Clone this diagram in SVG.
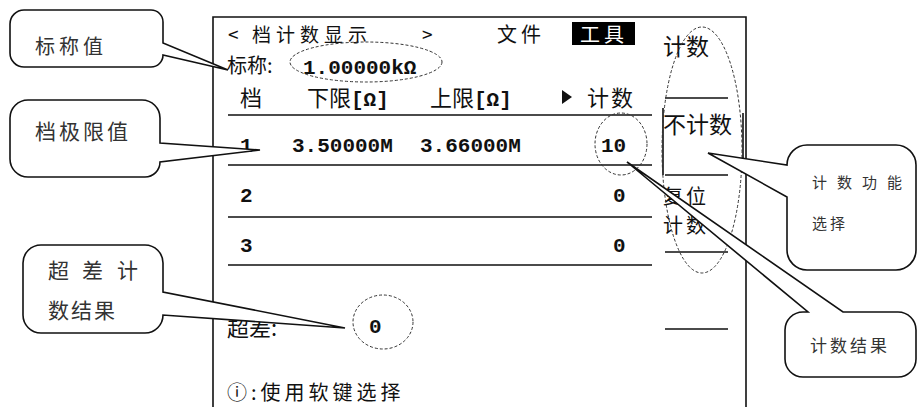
<svg xmlns="http://www.w3.org/2000/svg" width="920" height="407" viewBox="0 0 920 407">
<style>
.cjk{font-family:"Noto Sans CJK SC","Noto Sans",sans-serif;fill:#111}
.mono{font-family:"Liberation Mono","DejaVu Sans Mono",monospace;font-weight:bold;fill:#111}
.ln{stroke:#111;stroke-width:1.6;fill:none}
.dash{stroke:#333;stroke-width:1;stroke-dasharray:3 2;fill:none}
.co{fill:#fff;stroke:#111;stroke-width:1.6;stroke-linejoin:miter}
.ct{font-family:"Noto Sans CJK SC","Noto Sans",sans-serif;fill:#333}
</style>
<rect width="920" height="407" fill="#fff"/>
<g id="lcd">
  <path class="ln" d="M213,407 V17 H746 V407" stroke-width="2"/>
  <text class="cjk" x="228" y="42" font-size="19">&lt;</text>
  <text class="cjk" x="252" y="42" font-size="19" letter-spacing="5">档计数显示</text>
  <text class="cjk" x="422" y="42" font-size="19">&gt;</text>
  <text class="cjk" x="497" y="42" font-size="20" letter-spacing="4">文件</text>
  <rect x="572" y="22" width="63" height="23" fill="#000"/>
  <text class="cjk" x="580" y="42" font-size="20" letter-spacing="4" style="fill:#fff">工具</text>
  <text class="cjk" x="227" y="73" font-size="20">标称:</text>
  <text class="mono" x="303" y="74" font-size="21">1.00000kΩ</text>
  <text class="cjk" x="240" y="106" font-size="22">档</text>
  <text class="cjk" x="307" y="106" font-size="22">下限<tspan class="mono" font-size="21">[Ω]</tspan></text>
  <text class="cjk" x="430" y="106" font-size="22">上限<tspan class="mono" font-size="21">[Ω]</tspan></text>
  <polygon points="562,90 572,97 562,104" fill="#111"/>
  <text class="cjk" x="587" y="106" font-size="22" letter-spacing="2">计数</text>
  <path class="ln" d="M228,115 H652 M228,165 H652 M228,217 H652 M228,265 H652"/>
  <text class="mono" x="240" y="152" font-size="21">1</text>
  <text class="mono" x="292" y="152" font-size="21">3.50000M</text>
  <text class="mono" x="420" y="152" font-size="21">3.66000M</text>
  <text class="mono" x="601" y="152" font-size="21">10</text>
  <text class="mono" x="240" y="202" font-size="21">2</text>
  <text class="mono" x="613" y="202" font-size="21">0</text>
  <text class="mono" x="240" y="252" font-size="21">3</text>
  <text class="mono" x="613" y="252" font-size="21">0</text>
  <text class="cjk" x="227" y="336" font-size="22">超差:</text>
  <text class="mono" x="369" y="333" font-size="21">0</text>
  <text class="cjk" x="227" y="400" font-size="20" letter-spacing="4">ⓘ:使用软键选择</text>
  <text class="cjk" x="663" y="55" font-size="23">计数</text>
  <path class="ln" d="M665,98 H728 M663,108 V175 M743,113 V173 M665,175 H728 M665,252 H728 M665,329 H728"/>
  <text class="cjk" x="663" y="133" font-size="23">不计数</text>
  <text class="cjk" x="663" y="204" font-size="20" letter-spacing="3">复位</text>
  <text class="cjk" x="663" y="233" font-size="20" letter-spacing="3">计数</text>
  <ellipse class="dash" cx="366" cy="62" rx="76" ry="20"/>
  <ellipse class="dash" cx="621" cy="144" rx="26" ry="31"/>
  <ellipse class="dash" cx="383" cy="322" rx="30" ry="27"/>
  <ellipse class="dash" cx="702" cy="150" rx="40" ry="123"/>
</g>
<g id="callout-nominal">
  <path class="co" d="M24,10 H151 A12,12 0 0 1 163,22 V43 L228,70 L163,55 A12,12 0 0 1 151,67 H24 A14,14 0 0 1 10,53 V24 A14,14 0 0 1 24,10 Z"/>
  <text class="ct" x="35" y="54" font-size="20" letter-spacing="4">标称值</text>
</g>
<g id="callout-limits">
  <path class="co" d="M28,100 H142 A18,18 0 0 1 160,118 V143 L260,150 L160,162 A15,15 0 0 1 145,177 H28 A18,18 0 0 1 10,159 V118 A18,18 0 0 1 28,100 Z"/>
  <text class="ct" x="35" y="139" font-size="21" letter-spacing="3">档极限值</text>
</g>
<g id="callout-over">
  <path class="co" d="M41,245 H145 A18,18 0 0 1 163,263 V292 L345,328 L163,315 A18,18 0 0 1 145,333 H41 A18,18 0 0 1 23,315 V263 A18,18 0 0 1 41,245 Z"/>
  <text class="ct" font-size="21" y="278"><tspan x="48">超</tspan><tspan x="82">差</tspan><tspan x="117">计</tspan></text>
  <text class="ct" x="48" y="318" font-size="21" letter-spacing="2">数结果</text>
</g>
<g id="callout-func">
  <path class="co" d="M807,145 H896 A20,20 0 0 1 916,165 V250 A20,20 0 0 1 896,270 H807 A20,20 0 0 1 787,250 V197 L708,153 L787,165 A20,20 0 0 1 807,145 Z"/>
  <text class="ct" font-size="15" y="188"><tspan x="812">计</tspan><tspan x="837">数</tspan><tspan x="862">功</tspan><tspan x="887">能</tspan></text>
  <text class="ct" x="812" y="229" font-size="15" letter-spacing="3">选择</text>
</g>
<g id="callout-result">
  <path class="co" d="M803,312 H808 L627,162 L843,312 H898 A18,18 0 0 1 916,330 V359 A18,18 0 0 1 898,377 H803 A18,18 0 0 1 785,359 V330 A18,18 0 0 1 803,312 Z"/>
  <text class="ct" x="810" y="352" font-size="17" letter-spacing="3">计数结果</text>
</g>
</svg>
